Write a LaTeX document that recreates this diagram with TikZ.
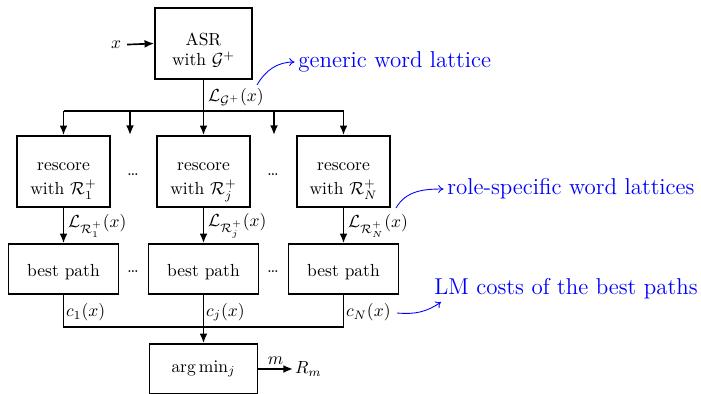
\documentclass[tikz,border=0pt]{standalone}
\usetikzlibrary{arrows.meta}
\newcommand{\bxt}[3]{\raisebox{-#1}[0pt][0pt]{\def\arraystretch{#2}\begin{tabular}{@{}c@{}}#3\end{tabular}}}
\begin{document}
\begin{tikzpicture}[x=0.5714pt,y=-0.5714pt,
  box/.style={draw,line width=0.95pt,inner sep=0pt},
  bigbox/.style={box,minimum width=55.4pt,minimum height=40.6pt},
  rbox/.style={box,minimum width=53.1pt,minimum height=40.6pt},
  pbox/.style={box,minimum width=62.9pt,minimum height=28.6pt},
  conn/.style={line width=0.95pt},
  arr/.style={conn,-{Latex[length=5.5pt,width=4.5pt]}},
  lbl/.style={anchor=west,inner sep=1pt},
  note/.style={text=blue,font=\fontsize{13.1}{16}\selectfont,anchor=west,inner sep=2pt},
  notearr/.style={blue,line width=0.5pt,-{To[length=3pt,width=4.5pt]}}]
\useasboundingbox (0,0) rectangle (701,393);
% top
\node[bigbox] (asr) at (203.5,43.5) {\bxt{7pt}{0.97}{ASR\\with $\mathcal{G}^+$}};
\node (xin) at (116,45) {$x$};
\draw[arr] (xin) -- (asr.west);
% rescore boxes
\node[rbox] (r1) at (63.5,171.5) {\bxt{6.2pt}{1.14}{rescore\\with $\mathcal{R}_1^+$}};
\node[rbox] (rj) at (203.5,171.5) {\bxt{6.2pt}{1.14}{rescore\\with $\mathcal{R}_j^+$}};
\node[rbox] (rN) at (343.5,171.5) {\bxt{6.2pt}{1.14}{rescore\\with $\mathcal{R}_N^+$}};
\node (dr1) at (133,175) {\dots};
\node (dr2) at (273,175) {\dots};
% split
\coordinate (sp) at (203.5,111);
\coordinate (hl) at (63.5,111);
\coordinate (hr) at (343.5,111);
\coordinate (e1t) at (130,111);
\coordinate (e1b) at (130,135);
\coordinate (e2t) at (274,111);
\coordinate (e2b) at (274,135);
\draw[conn] (asr.south) -- (sp);
\draw[conn] (hl) -- (hr);
\draw[arr] (hl) -- (r1.north);
\draw[arr] (sp) -- (rj.north);
\draw[arr] (hr) -- (rN.north);
\draw[arr] (e1t) -- (e1b);
\draw[arr] (e2t) -- (e2b);
\node[lbl] (lg) at (206,97) {$\mathcal{L}_{\mathcal{G}^+}(x)$};
% best path boxes
\node[pbox] (b1) at (63.5,269) {\bxt{4.6pt}{1}{best path}};
\node[pbox] (bj) at (203.5,269) {\bxt{4.6pt}{1}{best path}};
\node[pbox] (bN) at (343.5,269) {\bxt{4.6pt}{1}{best path}};
\node (db1) at (133,272) {\dots};
\node (db2) at (273,272) {\dots};
\draw[arr] (r1.south) -- (b1.north);
\draw[arr] (rj.south) -- (bj.north);
\draw[arr] (rN.south) -- (bN.north);
\node[lbl] (l1) at (66,226) {$\mathcal{L}_{\mathcal{R}_1^+}(x)$};
\node[lbl] (lj) at (206,226) {$\mathcal{L}_{\mathcal{R}_j^+}(x)$};
\node[lbl] (lN) at (346,226) {$\mathcal{L}_{\mathcal{R}_N^+}(x)$};
% argmin
\node[pbox,minimum width=61.7pt] (am) at (203.5,369) {$\arg\min_j$};
\coordinate (jn) at (203.5,327);
\draw[conn] (b1.south) |- (jn) -| (bN.south);
\draw[conn] (bj.south) -- (jn);
\draw[arr] (jn) -- (am.north);
\node[lbl] (c1) at (64,312) {$c_1(x)$};
\node[lbl] (cj) at (204,312) {$c_j(x)$};
\node[lbl] (cN) at (344,312) {$c_N(x)$};
\node[anchor=west,inner sep=1pt] (rm) at (293,369) {$R_m$};
\draw[arr] (am.east) -- (rm.west) node[midway,above,inner sep=2pt] {$m$};
% annotations
\node[note] (gen) at (294.5,62) {generic word lattice};
\node[note] (role) at (443.5,189) {role-specific word lattices};
\node[note] (lm) at (430.5,289) {LM costs of the best paths};
\coordinate (g0) at (257,85);
\coordinate (r0) at (396,208);
\coordinate (m0) at (397,313);
\coordinate (m1) at (441,302);
\draw[notearr] (g0) to[out=60,in=180] (gen.west);
\draw[notearr] (r0) to[out=60,in=180] (role.west);
\draw[notearr] (m0) to[out=-5,in=215] (m1);
\end{tikzpicture}
\end{document}
